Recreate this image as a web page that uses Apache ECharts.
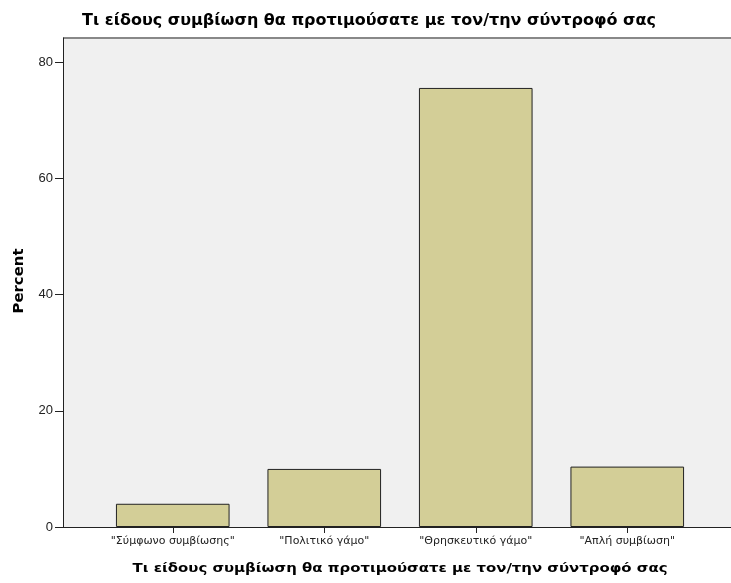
<!DOCTYPE html>
<html>
<head>
<meta charset="utf-8">
<script src="https://cdn.jsdelivr.net/npm/echarts@6/dist/echarts.min.js"></script>
<style>
  html, body { margin: 0; padding: 0; background: #fff; }
  #chart { width: 731px; height: 583px; }
</style>
</head>
<body>
<div id="chart"></div>
<script>
// data
const categories = ['"Σύμφωνο συμβίωσης"', '"Πολιτικό γάμο"', '"Θρησκευτικό γάμο"', '"Απλή συμβίωση"'];
const percents = [4.0, 10.0, 75.6, 10.4];
const yTicks = [0, 20, 40, 60, 80];
const titleText = 'Τι είδους συμβίωση θα προτιμούσατε με τον/την σύντροφό σας';
const yName = 'Percent';

const font = '"Liberation Sans", Arial, sans-serif';
const wideFont = '"DejaVu Sans", sans-serif';
const yMax = 84.2;

// SPSS draws its headings wide; measure and stretch to the same footprint
const ctx = document.createElement('canvas').getContext('2d');
function stretch(text, size, target) {
  ctx.font = 'bold ' + size + 'px "DejaVu Sans"';
  return target / ctx.measureText(text).width;
}

const chart = echarts.init(document.getElementById('chart'));

const option = {
  animation: false,
  backgroundColor: '#ffffff',
  grid: [
    // frame / background and y axis
    { left: 63, right: 0, top: 38, bottom: 56, show: true, backgroundColor: '#f0f0f0', borderWidth: 0 },
    // bars sit in an inner band, as in the SPSS output
    { left: 97, right: 28, top: 38, bottom: 56 }
  ],
  xAxis: [
    {
      gridIndex: 0, type: 'value', min: 0, max: 1,
      axisLine: { show: true, lineStyle: { color: '#222', width: 1 } },
      axisTick: { show: false }, axisLabel: { show: false }, splitLine: { show: false }
    },
    {
      gridIndex: 1, type: 'category', data: categories,
      axisLine: { show: false },
      axisTick: { show: true, alignWithLabel: true, length: 6, lineStyle: { color: '#222' } },
      axisLabel: { fontFamily: wideFont, fontSize: 11, color: '#222', margin: 9, interval: 0 }
    }
  ],
  yAxis: [
    {
      gridIndex: 0, type: 'value', min: 0, max: yMax,
      axisLine: { show: true, lineStyle: { color: '#222', width: 1 } },
      axisTick: { show: true, length: 8, customValues: yTicks, lineStyle: { color: '#222' } },
      axisLabel: { fontFamily: font, fontSize: 13, color: '#222', margin: 10, customValues: yTicks },
      splitLine: { show: false }
    },
    { gridIndex: 1, type: 'value', min: 0, max: yMax, show: false }
  ],
  graphic: [
    // top border of the plot frame
    { type: 'line', shape: { x1: 63, y1: 38, x2: 731, y2: 38 }, style: { stroke: '#888', lineWidth: 2 } },
    {
      type: 'text', x: 369, y: 21, scaleX: stretch(titleText, 15, 574),
      style: { text: titleText, fontFamily: wideFont, fontSize: 15, fontWeight: 'bold', fill: '#000', align: 'center', verticalAlign: 'middle' }
    },
    {
      type: 'text', x: 400, y: 569, scaleX: stretch(titleText, 13, 535),
      style: { text: titleText, fontFamily: wideFont, fontSize: 13, fontWeight: 'bold', fill: '#000', align: 'center', verticalAlign: 'middle' }
    },
    {
      type: 'text', x: 19, y: 281, rotation: Math.PI / 2, scaleX: stretch(yName, 14, 65),
      style: { text: yName, fontFamily: wideFont, fontSize: 14, fontWeight: 'bold', fill: '#000', align: 'center', verticalAlign: 'middle' }
    }
  ],
  series: [
    {
      type: 'bar',
      xAxisIndex: 1,
      yAxisIndex: 1,
      data: percents,
      barWidth: '75%',
      itemStyle: { color: '#d3ce97', borderColor: '#222', borderWidth: 1 }
    }
  ]
};

chart.setOption(option);
</script>
</body>
</html>
